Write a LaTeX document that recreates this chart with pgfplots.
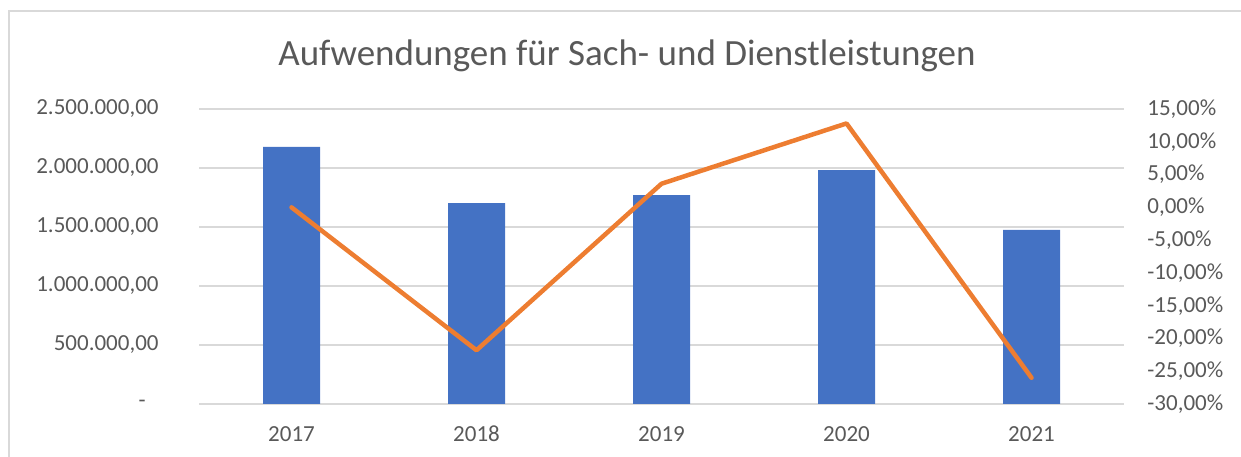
\documentclass[border=0pt]{standalone}
\usepackage{fontspec}
\setmainfont{Carlito}
\usepackage{pgfplots}
\pgfplotsset{compat=1.18}

\definecolor{barblue}{HTML}{4472C4}
\definecolor{lineorange}{HTML}{ED7D31}
\definecolor{gridgray}{HTML}{D9D9D9}
\definecolor{textgray}{HTML}{595959}

\pgfplotsset{
  excelbase/.style={
    at={(99.5bp,26.5bp)}, anchor=south west,
    scale only axis,
    width=462.5bp, height=147.5bp,
    xmin=-0.5, xmax=4.5,
    axis line style={draw=none},
    tick style={draw=none},
    scaled y ticks=false,
    tick label style={text=textgray, font=\fontsize{11.5bp}{14bp}\selectfont},
    /pgf/number format/assume math mode=true,
  },
}

\begin{document}
\begin{tikzpicture}
% bars, left axis
\begin{axis}[
    excelbase,
    ymin=0, ymax=2500000,
    xtick={0,1,2,3,4},
    xticklabels={2017,2018,2019,2020,2021},
    ytick={0,500000,1000000,1500000,2000000,2500000},
    yticklabels={{-\hspace*{6.5bp}},{500.000,00},{1.000.000,00},{1.500.000,00},{2.000.000,00},{2.500.000,00}},
    ymajorgrids,
    major grid style={gridgray, line width=1bp},
    yticklabel style={anchor=east, inner sep=0pt, xshift=-20bp},
    xticklabel style={anchor=base, inner sep=0pt, yshift=-18.5bp},
]
\addplot[ybar, bar width=28.5bp, bar shift=0pt, fill=barblue, draw=none]
  coordinates {(0,2178000) (1,1703000) (2,1771000) (3,1983000) (4,1475000)};
\end{axis}

% change in percent, right axis
\begin{axis}[
    excelbase,
    ymin=-30, ymax=15,
    axis x line=none,
    axis y line*=right,
    ytick={-30,-25,-20,-15,-10,-5,0,5,10,15},
    yticklabels={{-30,00\%},{-25,00\%},{-20,00\%},{-15,00\%},{-10,00\%},{-5,00\%},{0,00\%},{5,00\%},{10,00\%},{15,00\%}},
    yticklabel style={anchor=west, inner sep=0pt, xshift=11.5bp},
]
\addplot[lineorange, line width=2.25bp, line cap=round, line join=round, mark=none]
  coordinates {(0,0.0) (1,-21.8) (2,3.6) (3,12.8) (4,-26.0)};
\end{axis}

\node[text=textgray, anchor=base, inner sep=0pt, font=\fontsize{18.5bp}{22bp}\selectfont] at (313.5bp,195.5bp)
  {Aufwendungen für Sach- und Dienstleistungen};
% chart frame (left and top edges only, as in the screenshot)
\draw[gridgray, line width=1bp] (4.5bp,0bp) -- (4.5bp,223bp) -- (620.5bp,223bp);
% canvas size
\pgfresetboundingbox
\path[use as bounding box] (0bp,0bp) rectangle (620.5bp,228.5bp);
\end{tikzpicture}
\end{document}
